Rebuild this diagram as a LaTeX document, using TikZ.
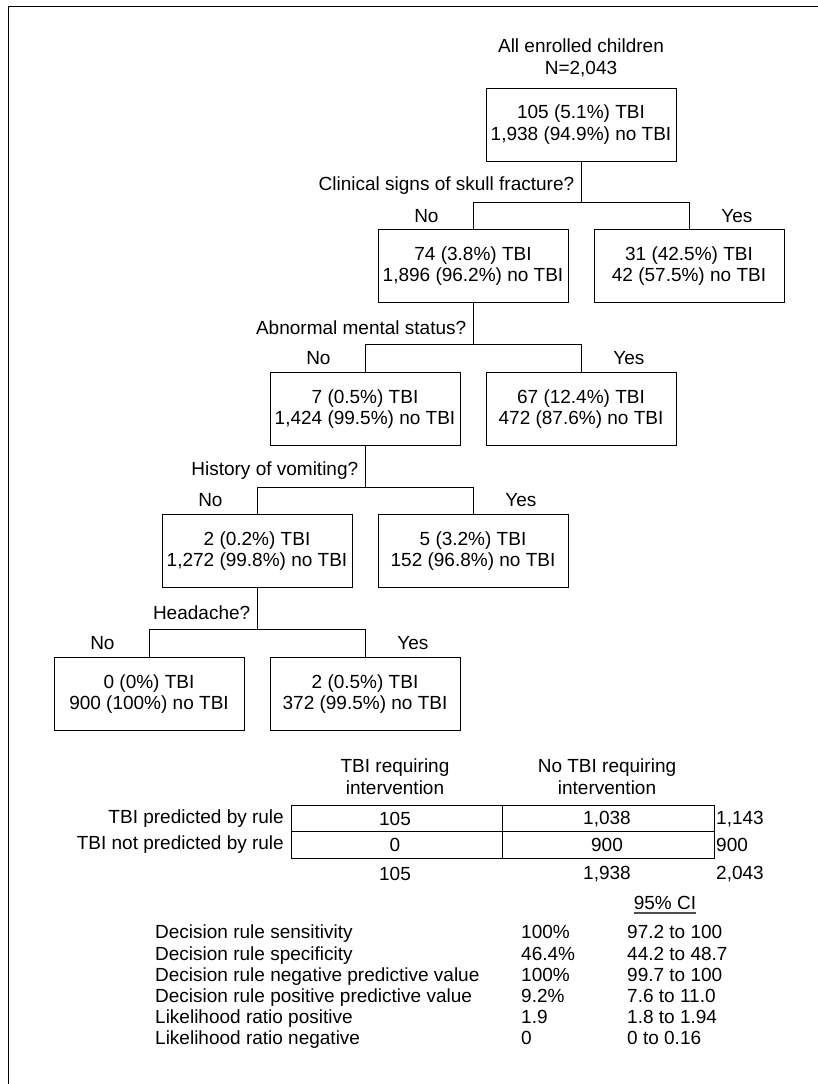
\documentclass[tikz,border=0pt]{standalone}
\usepackage{fontspec}
\setmainfont{Liberation Sans}
\tikzset{
  tbox/.style={draw,line width=0.9pt,minimum width=190pt,minimum height=73pt,align=center,inner sep=0pt},
  txt/.style={inner sep=0pt,align=center},
  branch/.style={line width=0.9pt},
  nolab/.style={anchor=east,inner sep=0pt,xshift=-34pt},
  yeslab/.style={anchor=west,inner sep=0pt,xshift=32pt},
  quest/.style={left=3pt,pos=0.6},
}
\begin{document}
\begin{tikzpicture}[x=1pt,y=-1pt,font=\fontsize{19}{21.7}\selectfont]
\useasboundingbox (0,0) rectangle (818,1084);
% frame
\draw[line width=0.9pt] (8,1084) -- (8,6) -- (818,6);

% decision tree
\node[txt] (all) at (581,57.5) {All enrolled children\\N=2,043};
\node[tbox] (root) at (581,124.5) {105 (5.1\%) TBI\\1,938 (94.9\%) no TBI};
\node[tbox] (skno) at (473,266) {74 (3.8\%) TBI\\1,896 (96.2\%) no TBI};
\node[tbox] (skyes) at (689,266) {31 (42.5\%) TBI\\42 (57.5\%) no TBI};
\node[tbox] (msno) at (365,409) {7 (0.5\%) TBI\\1,424 (99.5\%) no TBI};
\node[tbox] (msyes) at (581,409) {67 (12.4\%) TBI\\472 (87.6\%) no TBI};
\node[tbox] (vono) at (257,551) {2 (0.2\%) TBI\\1,272 (99.8\%) no TBI};
\node[tbox] (voyes) at (473,551) {5 (3.2\%) TBI\\152 (96.8\%) no TBI};
\node[tbox] (hano) at (149,694) {0 (0\%) TBI\\900 (100\%) no TBI};
\node[tbox] (hayes) at (365,694) {2 (0.5\%) TBI\\372 (99.5\%) no TBI};

\draw[branch] (root.south) -- node[quest] {Clinical signs of skull fracture?} ++(0,41) coordinate (j1);
\draw[branch] (skno.north) -- node[nolab] {No} (skno.north |- j1)
   -- (skyes.north |- j1) -- node[yeslab] {Yes} (skyes.north);
\draw[branch] (skno.south) -- node[quest] {Abnormal mental status?} ++(0,41) coordinate (j2);
\draw[branch] (msno.north) -- node[nolab] {No} (msno.north |- j2)
   -- (msyes.north |- j2) -- node[yeslab] {Yes} (msyes.north);
\draw[branch] (msno.south) -- node[quest] {History of vomiting?} ++(0,41) coordinate (j3);
\draw[branch] (vono.north) -- node[nolab] {No} (vono.north |- j3)
   -- (voyes.north |- j3) -- node[yeslab] {Yes} (voyes.north);
\draw[branch] (vono.south) -- node[quest] {Headache?} ++(0,41) coordinate (j4);
\draw[branch] (hano.north) -- node[nolab] {No} (hano.north |- j4)
   -- (hayes.north |- j4) -- node[yeslab] {Yes} (hayes.north);

% 2x2 table
\node[txt] (colyes) at (395,776.5) {TBI requiring\\intervention};
\node[txt] (colno) at (607,776.5) {No TBI requiring\\intervention};
\draw[branch] (291,805) rectangle (714,858);
\draw[branch] (291,831) -- (714,831);
\draw[branch] (502,805) -- (502,858);
\node[txt,anchor=east] (rowpred) at (284,819) {TBI predicted by rule};
\node[txt,anchor=east] (rownot) at (284,845) {TBI not predicted by rule};
\node[txt] (c11) at (395,819) {105};
\node[txt] (c12) at (607,819) {1,038};
\node[txt,anchor=west] (t1) at (716,819) {1,143};
\node[txt] (c21) at (395,845) {0};
\node[txt] (c22) at (607,845) {900};
\node[txt,anchor=west] (t2) at (716,845) {900};
\node[txt] (s1) at (395,874) {105};
\node[txt] (s2) at (607,874) {1,938};
\node[txt,anchor=west] (st) at (716,874) {2,043};

% test statistics
\node[txt] (ci) at (665,903) {95\% CI};
\draw[line width=1.3pt,black!70] ([yshift=-3pt]ci.south west) -- ([yshift=-3pt]ci.south east);
\foreach \lab/\val/\rng [count=\i] in {
   Decision rule sensitivity/100\%/97.2 to 100,
   Decision rule specificity/46.4\%/44.2 to 48.7,
   Decision rule negative predictive value/100\%/99.7 to 100,
   Decision rule positive predictive value/9.2\%/7.6 to 11.0,
   Likelihood ratio positive/1.9/1.8 to 1.94,
   Likelihood ratio negative/0/0 to 0.16} {
  \node[txt,anchor=base west] (lab\i) at (155,{917.6+21.2*\i}) {\lab};
  \node[txt,anchor=base west] (val\i) at (521,{917.6+21.2*\i}) {\val};
  \node[txt,anchor=base west] (rng\i) at (627,{917.6+21.2*\i}) {\rng};
}
\end{tikzpicture}
\end{document}
